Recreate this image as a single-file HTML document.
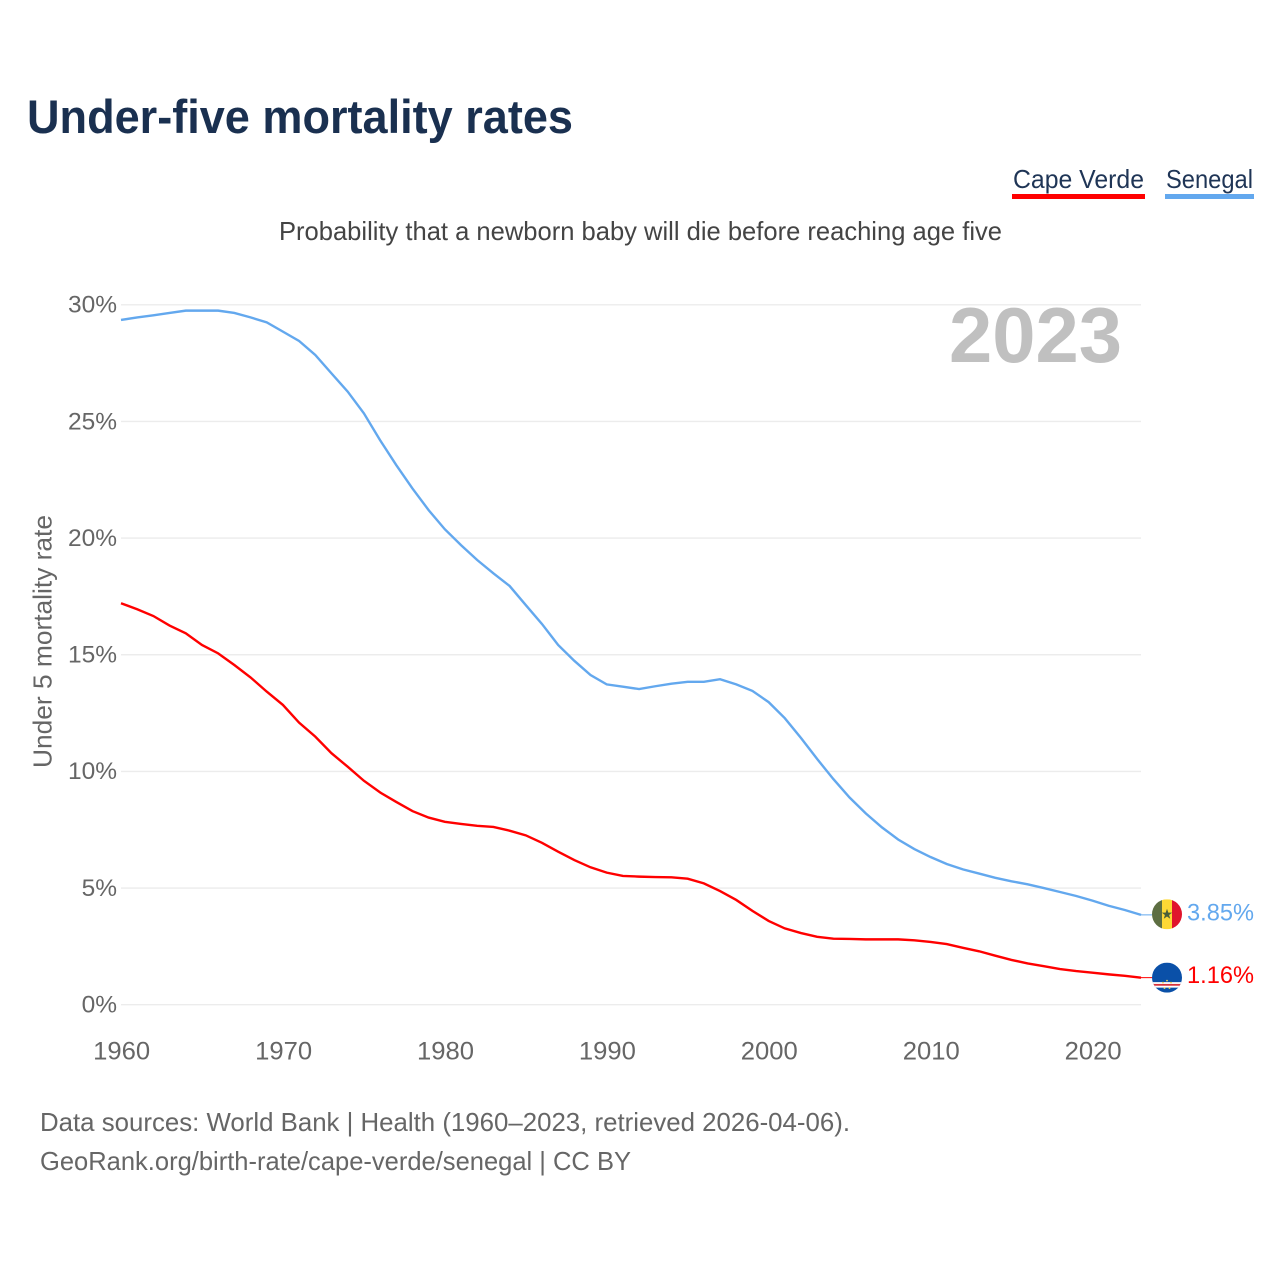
<!DOCTYPE html>
<html lang="en">
<head>
<meta charset="utf-8">
<title>Under-five mortality rates</title>
<style>
  html, body { margin: 0; padding: 0; background: #fff; }
  svg { display: block; font-family: "Liberation Sans", sans-serif; }
</style>
</head>
<body>
<svg id="chart" xmlns="http://www.w3.org/2000/svg" width="1280" height="1280" viewBox="0 0 1280 1280">
  <rect x="0" y="0" width="1280" height="1280" fill="#ffffff"/>
  <defs>
    <clipPath id="flag-clip"><circle cx="0" cy="0" r="15"/></clipPath>
  </defs>

  <text x="27" y="133" font-size="47" font-weight="700" fill="#1a3050" textLength="546" lengthAdjust="spacingAndGlyphs">Under-five mortality rates</text>

  <g>
    <g>
      <text x="1013" y="188" font-size="26" fill="#1f3556" textLength="131" lengthAdjust="spacingAndGlyphs">Cape Verde</text>
      <rect x="1012" y="194" width="133" height="5" fill="#ff0000"/>
    </g>
    <g>
      <text x="1166" y="188" font-size="26" fill="#1f3556" textLength="87" lengthAdjust="spacingAndGlyphs">Senegal</text>
      <rect x="1165" y="194" width="89" height="5" fill="#63a8ee"/>
    </g>
  </g>

  <text x="279" y="240" font-size="26" fill="#444444" textLength="723" lengthAdjust="spacingAndGlyphs">Probability that a newborn baby will die before reaching age five</text>

  <g id="grid"></g>
  <g id="y-ticks"></g>
  <g id="x-ticks"></g>

  <text transform="translate(51.5 768) rotate(-90)" x="0" y="0" font-size="26" fill="#666666" textLength="253" lengthAdjust="spacingAndGlyphs">Under 5 mortality rate</text>

  <text x="949" y="362" font-size="78" font-weight="700" fill="#c0c0c0" textLength="173" lengthAdjust="spacingAndGlyphs">2023</text>

  <g id="series"></g>

  <g id="flag-senegal" clip-path="url(#flag-clip)">
    <rect x="-15" y="-15" width="10" height="30" fill="#5d6e42"/>
    <rect x="-5" y="-15" width="10" height="30" fill="#fdd835"/>
    <rect x="5" y="-15" width="10" height="30" fill="#e0142c"/>
    <polygon points="0,-5.5 1.3,-1.7 5.2,-1.7 2.1,0.7 3.2,4.5 0,2.2 -3.2,4.5 -2.1,0.7 -5.2,-1.7 -1.3,-1.7" fill="#4a5f38"/>
  </g>

  <g id="flag-cape-verde" clip-path="url(#flag-clip)">
    <rect x="-15" y="-15" width="30" height="30" fill="#0a50a8"/>
    <rect x="-15" y="4.5" width="30" height="5.5" fill="#ffffff"/>
    <rect x="-15" y="6.3" width="30" height="1.8" fill="#d8323c"/>
    <circle cx="-4" cy="5" r="0.9" fill="#e8d25a"/>
    <circle cx="0" cy="3" r="0.9" fill="#e8d25a"/>
    <circle cx="4" cy="5" r="0.9" fill="#e8d25a"/>
    <circle cx="-2.5" cy="10.5" r="0.9" fill="#e8d25a"/>
    <circle cx="2.5" cy="10.5" r="0.9" fill="#e8d25a"/>
  </g>

  <g id="end-labels"></g>

  <text x="40" y="1131" font-size="26" fill="#666666" textLength="810" lengthAdjust="spacingAndGlyphs">Data sources: World Bank | Health (1960–2023, retrieved 2026-04-06).</text>
  <text x="40" y="1170" font-size="26" fill="#666666" textLength="591" lengthAdjust="spacingAndGlyphs">GeoRank.org/birth-rate/cape-verde/senegal | CC BY</text>
</svg>

<script>
const firstYear = 1960;
const lastYear = 2023;
const yTickValues = [0, 5, 10, 15, 20, 25, 30];
const yTickLabels = ["0%", "5%", "10%", "15%", "20%", "25%", "30%"];
const xTickYears = [1960, 1970, 1980, 1990, 2000, 2010, 2020];
const xTickLabels = ["1960", "1970", "1980", "1990", "2000", "2010", "2020"];

const senegalValues = [
  29.35, 29.46, 29.55, 29.65, 29.75, 29.75, 29.75, 29.65, 29.46, 29.25,
  28.85, 28.45, 27.85, 27.06, 26.28, 25.35, 24.20, 23.13, 22.13, 21.20,
  20.38, 19.70, 19.06, 18.49, 17.95, 17.13, 16.32, 15.42, 14.74, 14.13,
  13.73, 13.63, 13.53, 13.65, 13.76, 13.84, 13.84, 13.95, 13.73, 13.45,
  12.97, 12.28, 11.43, 10.53, 9.67, 8.88, 8.20, 7.60, 7.08, 6.67,
  6.33, 6.03, 5.80, 5.62, 5.44, 5.29, 5.16, 5.00, 4.83, 4.66,
  4.46, 4.24, 4.06, 3.85
];
const capeVerdeValues = [
  17.21, 16.95, 16.66, 16.25, 15.92, 15.42, 15.06, 14.56, 14.03, 13.42,
  12.85, 12.09, 11.49, 10.78, 10.20, 9.60, 9.10, 8.69, 8.30, 8.02,
  7.84, 7.75, 7.67, 7.62, 7.46, 7.26, 6.94, 6.56, 6.20, 5.89,
  5.66, 5.52, 5.49, 5.47, 5.46, 5.40, 5.20, 4.87, 4.49, 4.02,
  3.59, 3.27, 3.07, 2.91, 2.83, 2.82, 2.80, 2.80, 2.80, 2.76,
  2.69, 2.60, 2.44, 2.29, 2.10, 1.92, 1.77, 1.65, 1.53, 1.44,
  1.37, 1.30, 1.24, 1.16
];

const SVG_NS = "http://www.w3.org/2000/svg";
const plotLeft = 121, plotRight = 1141, plotZero = 1004.7, pxPerPercent = 23.33;
function xScale(year) {
  return plotLeft + (year - firstYear) * (plotRight - plotLeft) / (lastYear - firstYear);
}
function yScale(value) {
  return plotZero - value * pxPerPercent;
}
function make(tag, parent) {
  const node = document.createElementNS(SVG_NS, tag);
  parent.appendChild(node);
  return node;
}

const gridGroup = document.getElementById("grid");
const yTickGroup = document.getElementById("y-ticks");
yTickValues.forEach(function (value, i) {
  const line = make("line", gridGroup);
  
  
  line.setAttribute("x1", plotLeft);
  line.setAttribute("x2", plotRight);
  line.setAttribute("y1", yScale(value));
  line.setAttribute("y2", yScale(value));
  line.setAttribute("stroke", "#ececec");
  line.setAttribute("stroke-width", "1.4");

  const label = make("text", yTickGroup);
  
  
  label.setAttribute("x", 117);
  label.setAttribute("y", yScale(value) + 7.8);
  label.setAttribute("text-anchor", "end");
  label.setAttribute("font-size", "24.5");
  label.setAttribute("fill", "#666666");
  label.textContent = yTickLabels[i];
});

const xTickGroup = document.getElementById("x-ticks");
xTickYears.forEach(function (year, i) {
  const label = make("text", xTickGroup);
  
  
  label.setAttribute("x", xScale(year) - 27.8);
  label.setAttribute("y", 1059.5);
  label.setAttribute("font-size", "25");
  label.setAttribute("fill", "#666666");
  label.setAttribute("textLength", "57");
  label.setAttribute("lengthAdjust", "spacingAndGlyphs");
  label.textContent = xTickLabels[i];
});

function pathFor(values) {
  return values.map(function (value, i) {
    return (i === 0 ? "M" : "L") + xScale(firstYear + i).toFixed(2) + " " + yScale(value).toFixed(2);
  }).join(" ");
}

const seriesGroup = document.getElementById("series");

const senegalLine = make("path", seriesGroup);


senegalLine.setAttribute("d", pathFor(senegalValues));
senegalLine.setAttribute("fill", "none");
senegalLine.setAttribute("stroke", "#63a8ee");
senegalLine.setAttribute("stroke-width", "2.4");

const capeVerdeLine = make("path", seriesGroup);


capeVerdeLine.setAttribute("d", pathFor(capeVerdeValues));
capeVerdeLine.setAttribute("fill", "none");
capeVerdeLine.setAttribute("stroke", "#ff0000");
capeVerdeLine.setAttribute("stroke-width", "2.4");

const senegalLast = senegalValues[senegalValues.length - 1];
const capeVerdeLast = capeVerdeValues[capeVerdeValues.length - 1];
const endX = xScale(lastYear);

const senegalLeader = make("line", seriesGroup);


senegalLeader.setAttribute("x1", endX);
senegalLeader.setAttribute("x2", endX + 11);
senegalLeader.setAttribute("y1", yScale(senegalLast));
senegalLeader.setAttribute("y2", yScale(senegalLast));
senegalLeader.setAttribute("stroke", "#63a8ee");
senegalLeader.setAttribute("stroke-width", "1");

const capeVerdeLeader = make("line", seriesGroup);


capeVerdeLeader.setAttribute("x1", endX);
capeVerdeLeader.setAttribute("x2", endX + 11);
capeVerdeLeader.setAttribute("y1", yScale(capeVerdeLast));
capeVerdeLeader.setAttribute("y2", yScale(capeVerdeLast));
capeVerdeLeader.setAttribute("stroke", "#ff0000");
capeVerdeLeader.setAttribute("stroke-width", "1");

document.getElementById("flag-senegal").setAttribute("transform", "translate(" + (endX + 26) + " " + (yScale(senegalLast) - 0.6) + ")");
document.getElementById("flag-cape-verde").setAttribute("transform", "translate(" + (endX + 26) + " " + yScale(capeVerdeLast) + ")");

const endGroup = document.getElementById("end-labels");

const senegalEnd = make("text", endGroup);


senegalEnd.setAttribute("x", endX + 46);
senegalEnd.setAttribute("y", yScale(senegalLast) + 5.5);
senegalEnd.setAttribute("font-size", "24.5");
senegalEnd.setAttribute("fill", "#63a8ee");
senegalEnd.setAttribute("textLength", "67");
senegalEnd.setAttribute("lengthAdjust", "spacingAndGlyphs");
senegalEnd.textContent = senegalLast.toFixed(2) + "%";

const capeVerdeEnd = make("text", endGroup);


capeVerdeEnd.setAttribute("x", endX + 46);
capeVerdeEnd.setAttribute("y", yScale(capeVerdeLast) + 5.5);
capeVerdeEnd.setAttribute("font-size", "24.5");
capeVerdeEnd.setAttribute("fill", "#ff0000");
capeVerdeEnd.setAttribute("textLength", "67");
capeVerdeEnd.setAttribute("lengthAdjust", "spacingAndGlyphs");
capeVerdeEnd.textContent = capeVerdeLast.toFixed(2) + "%";
</script>
</body>
</html>
